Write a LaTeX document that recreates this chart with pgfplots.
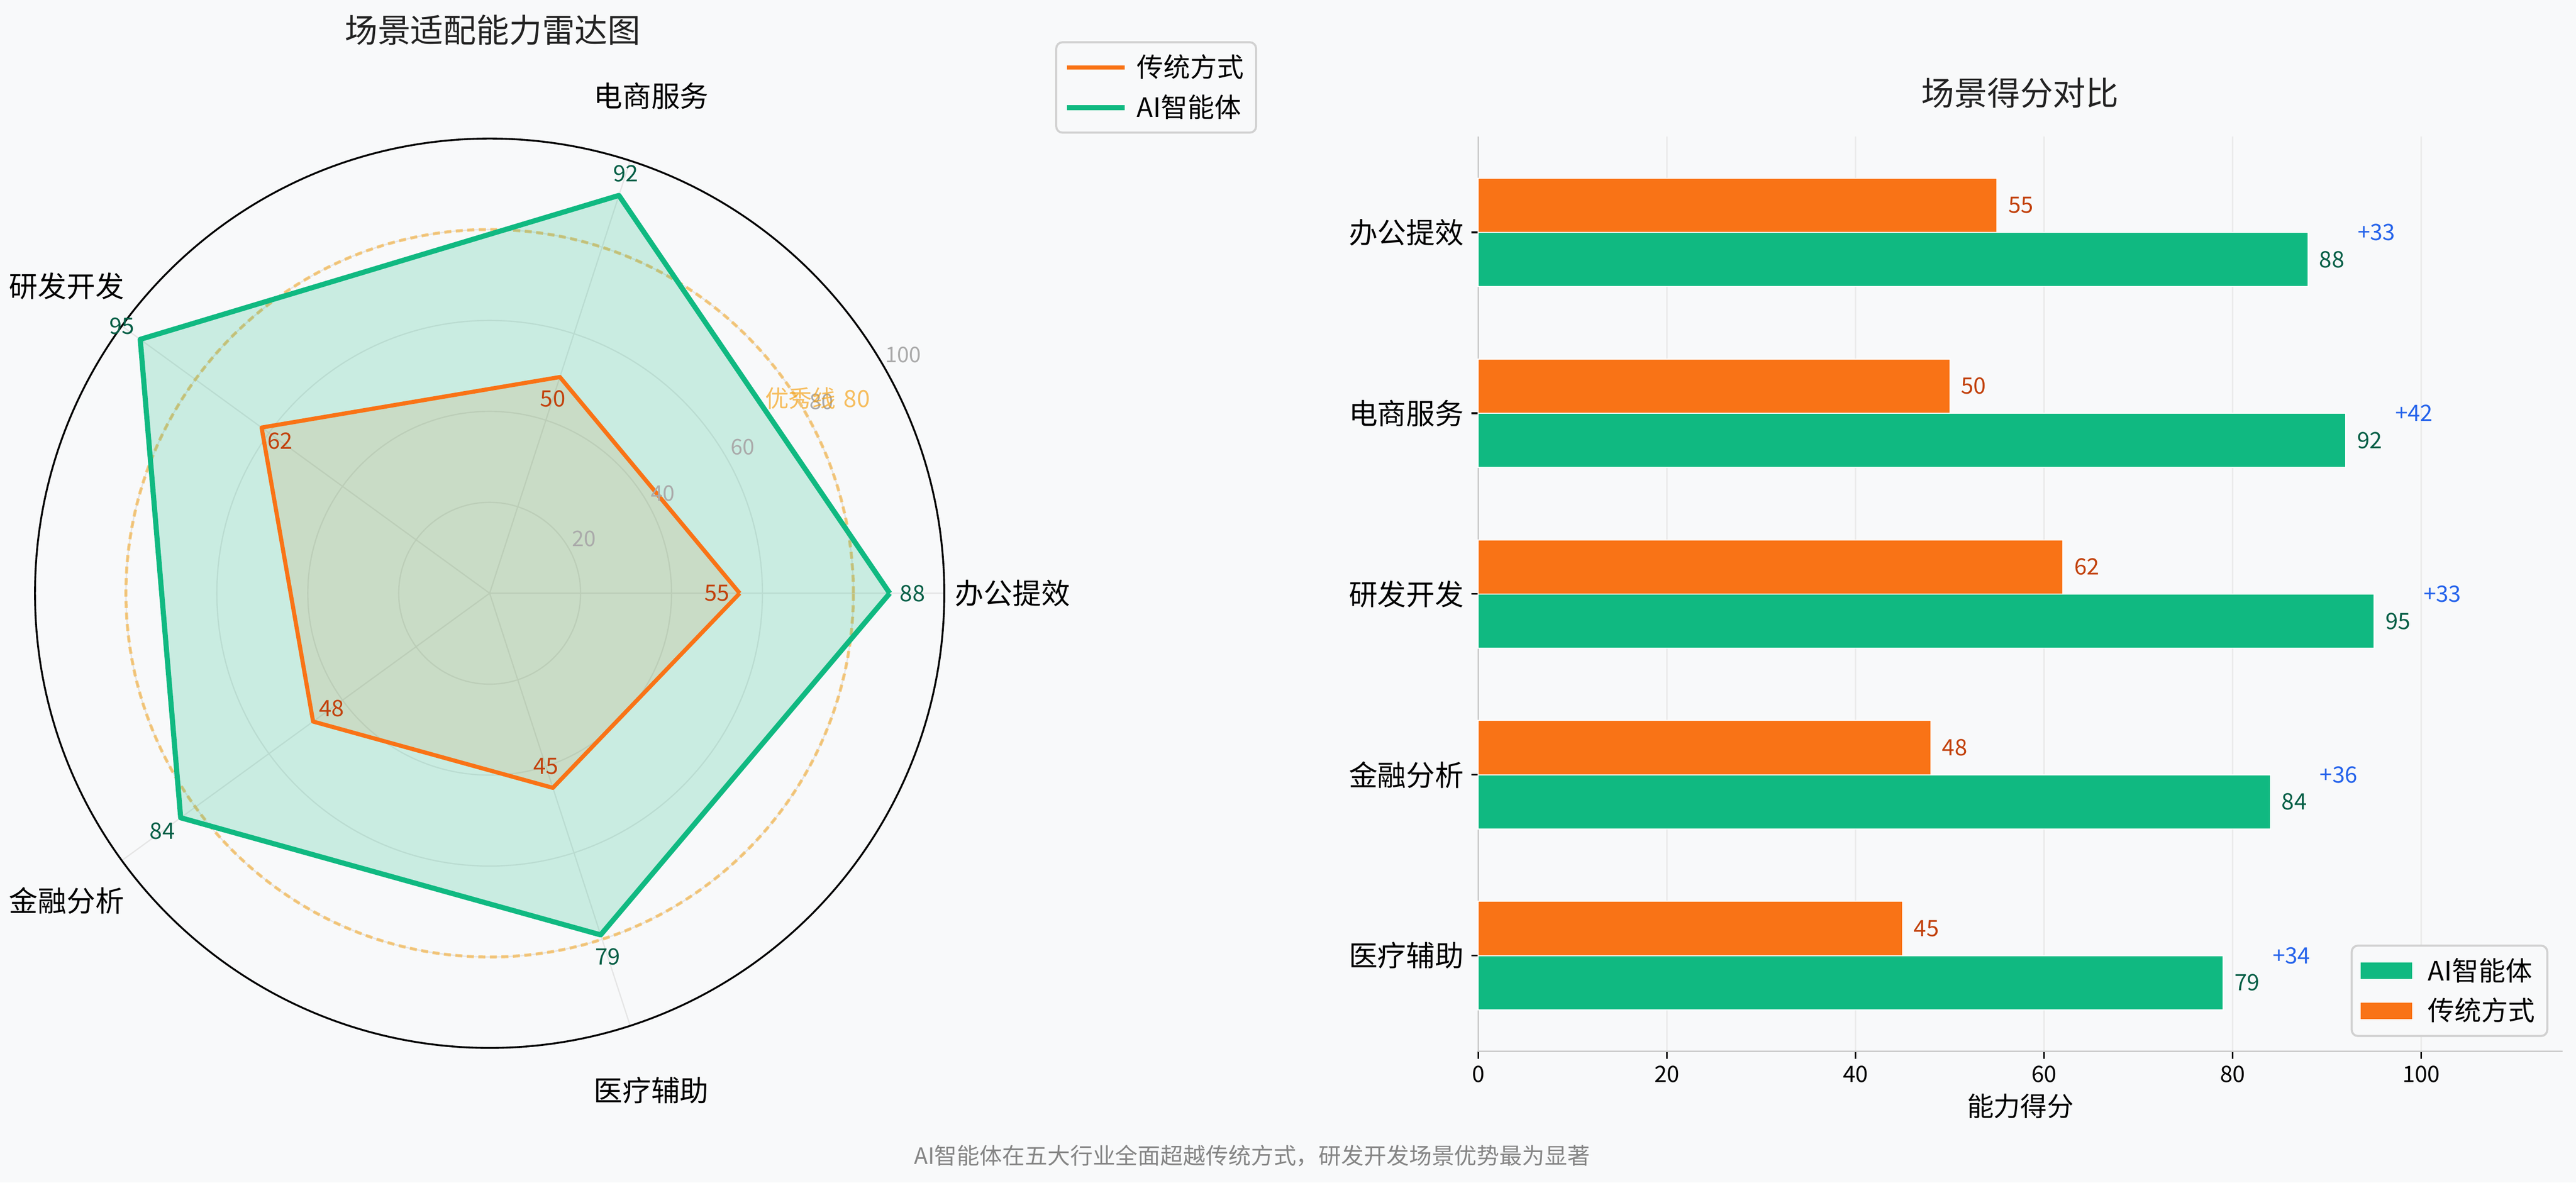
\documentclass[border=0pt]{standalone}
\usepackage{fontspec}
\setmainfont{Noto Sans CJK SC}
\usepackage{pgfplots}
\pgfplotsset{compat=1.18}
\usepackage{pgfplotstable}
\usepgfplotslibrary{polar}
\definecolor{bg}{HTML}{F8F9FA}
\definecolor{cgreen}{HTML}{10B981}
\definecolor{corange}{HTML}{F97316}
\definecolor{lgreen}{HTML}{065F46}
\definecolor{lorange}{HTML}{C2410C}
\definecolor{cblue}{HTML}{2563EB}
\definecolor{gold}{HTML}{F59E0B}
\definecolor{tgray}{HTML}{AAAAAA}
\definecolor{ttl}{HTML}{222222}
\newcommand{\fs}[1]{\fontsize{#1pt}{#1pt}\selectfont}
\pgfplotsset{/pgf/number format/assume math mode=true}

\pgfplotstableread{
angle trad ai
0   55 88
72  50 92
144 62 95
216 48 84
288 45 79
360 55 88
}\radar

\pgfplotstableread{
pos trad ai
4 55 88
3 50 92
2 62 95
1 48 84
0 45 79
}\bars

\begin{document}
\begin{tikzpicture}
\fill[bg] (0,0) rectangle (1253.76pt,575.52pt);
\path[use as bounding box] (0,0) rectangle (1253.76pt,575.52pt);

\node[font=\fs{16}, text=ttl] at (239.8pt,560.9pt) {场景适配能力雷达图};
\node[font=\fs{16}, text=ttl] at (983.2pt,530.2pt) {场景得分对比};
\node[font=\fs{11}, text=black!48] at (609.4pt,12.96pt) {AI智能体在五大行业全面超越传统方式，研发开发场景优势最为显著};

\begin{polaraxis}[
  at={(238.32pt,286.8pt)}, anchor=center,
  scale only axis, width=442.56pt, height=442.56pt,
  xmin=0, xmax=360, ymin=0, ymax=100,
  xtick={0,72,144,216,288}, ytick={20,40,60,80,100},
  xticklabels={}, yticklabels={},
  major tick length=0pt,
  grid=major, major grid style={draw=black!10, line width=0.6pt},
  separate axis lines,
  x axis line style={black, line width=0.9pt},
  y axis line style={draw=none},
  clip=false,
  legend style={at={(1.344,1.107)}, anchor=north east, draw=black!18, line width=1pt,
    rounded corners=3pt, fill=bg, font=\fs{13}, row sep=3pt, inner xsep=4pt, inner ysep=4pt},
  legend cell align=left,
  legend image code/.code={\draw[#1, sharp corners] (0pt,0pt) -- (28pt,0pt); \path[draw=none] (0pt,0pt) -- (32pt,0pt);},
]
\draw[gold, draw opacity=0.5, dash pattern=on 3.4pt off 2.2pt, line width=1.5pt] (axis cs:0,0) circle[radius=177.02pt];
\addplot[forget plot, draw=none, fill=corange, fill opacity=0.15] table[x=angle,y=trad]{\radar};
\addplot[forget plot, draw=none, fill=cgreen, fill opacity=0.2] table[x=angle,y=ai]{\radar};
\addplot[corange, line width=2pt, line join=round] table[x=angle,y=trad]{\radar};
\addplot[cgreen, line width=2.5pt, line join=round] table[x=angle,y=ai]{\radar};
\legend{传统方式,AI智能体}
% radial tick labels
\node[font=\fs{10.5}, text=tgray] at (axis cs:30,24) {20};
\node[font=\fs{10.5}, text=tgray] at (axis cs:30,44) {40};
\node[font=\fs{10.5}, text=tgray] at (axis cs:30,64.3) {60};
\node[font=\fs{10.5}, text=tgray] at (axis cs:30,84.3) {80};
\node[font=\fs{10.5}, text=tgray] at (axis cs:30,105) {100};
\node[font=\fs{11.5}, text=gold, opacity=0.65] at (axis cs:30.7,83.9) {优秀线\,\,80};
% category labels
\node[font=\fs{14}] at (axis cs:0,115) {办公提效};
\node[font=\fs{14}] at (axis cs:72,115) {电商服务};
\node[font=\fs{14}] at (axis cs:144,115) {研发开发};
\node[font=\fs{14}] at (axis cs:216,115) {金融分析};
\node[font=\fs{14}] at (axis cs:288,115) {医疗辅助};
% value labels
\node[font=\fs{11}, text=lgreen] at (axis cs:0,93) {88};
\node[font=\fs{11}, text=lgreen] at (axis cs:72,97) {92};
\node[font=\fs{11}, text=lgreen] at (axis cs:144,100) {95};
\node[font=\fs{11}, text=lgreen] at (axis cs:216,89) {84};
\node[font=\fs{11}, text=lgreen] at (axis cs:288,84) {79};
\node[font=\fs{11}, text=lorange] at (axis cs:0,50) {55};
\node[font=\fs{11}, text=lorange] at (axis cs:72,45) {50};
\node[font=\fs{11}, text=lorange] at (axis cs:144,57) {62};
\node[font=\fs{11}, text=lorange] at (axis cs:216,43) {48};
\node[font=\fs{11}, text=lorange] at (axis cs:288,40) {45};
\end{polaraxis}

\begin{axis}[
  at={(719.52pt,63.84pt)}, anchor=south west,
  scale only axis, width=527.76pt, height=445.2pt,
  xmin=0, xmax=115, ymin=-0.53, ymax=4.53,
  xtick={0,20,40,60,80,100}, ytick={0,1,2,3,4},
  yticklabels={医疗辅助,金融分析,研发开发,电商服务,办公提效},
  axis x line*=bottom, axis y line*=left,
  axis line style={draw=black!20, line width=0.8pt},
  tick align=outside, major tick length=3.5pt,
  tick style={black, line width=0.8pt},
  xmajorgrids, major grid style={draw=black!8, line width=0.6pt},
  xticklabel style={font=\fs{11}},
  yticklabel style={font=\fs{14}},
  xlabel={能力得分},
  xlabel style={font=\fs{13}, at={(axis description cs:0.5,0)}, anchor=center, yshift=-26.6pt},
  legend style={at={(1,0)}, anchor=south east, xshift=-7pt, yshift=7pt, draw=black!18, line width=1pt,
    rounded corners=3pt, fill=bg, font=\fs{13}, row sep=3pt, inner xsep=4pt, inner ysep=4pt},
  legend cell align=left,
  legend image code/.code={\fill[#1, draw=white, line width=0.4pt, sharp corners] (0pt,-4.2pt) rectangle (25.4pt,4.2pt); \path[draw=none, fill=none] (0pt,0pt) -- (31pt,0pt);},
  clip=false,
]
\addplot[xbar, bar width=0.3, bar shift=-0.15, fill=cgreen, draw=white, line width=0.5pt]
  table[x=ai, y=pos]{\bars};
\addplot[xbar, bar width=0.3, bar shift=0.15, fill=corange, draw=white, line width=0.5pt]
  table[x=trad, y=pos]{\bars};
\legend{AI智能体,传统方式}
\addplot[forget plot, draw=none, point meta=x, nodes near coords,
  every node near coord/.append style={font=\fs{11}, text=lgreen, anchor=west, inner sep=0pt, xshift=5.3pt}]
  table[x=ai, y expr=\thisrow{pos}-0.15]{\bars};
\addplot[forget plot, draw=none, point meta=x, nodes near coords,
  every node near coord/.append style={font=\fs{11}, text=lorange, anchor=west, inner sep=0pt, xshift=5.3pt}]
  table[x=trad, y expr=\thisrow{pos}+0.15]{\bars};
\node[font=\fs{11}, text=cblue, anchor=west, inner sep=0pt] at (axis cs:93.2,4) {+33};
\node[font=\fs{11}, text=cblue, anchor=west, inner sep=0pt] at (axis cs:97.2,3) {+42};
\node[font=\fs{11}, text=cblue, anchor=west, inner sep=0pt] at (axis cs:100.2,2) {+33};
\node[font=\fs{11}, text=cblue, anchor=west, inner sep=0pt] at (axis cs:89.2,1) {+36};
\node[font=\fs{11}, text=cblue, anchor=west, inner sep=0pt] at (axis cs:84.2,0) {+34};
\end{axis}
\end{tikzpicture}
\end{document}
